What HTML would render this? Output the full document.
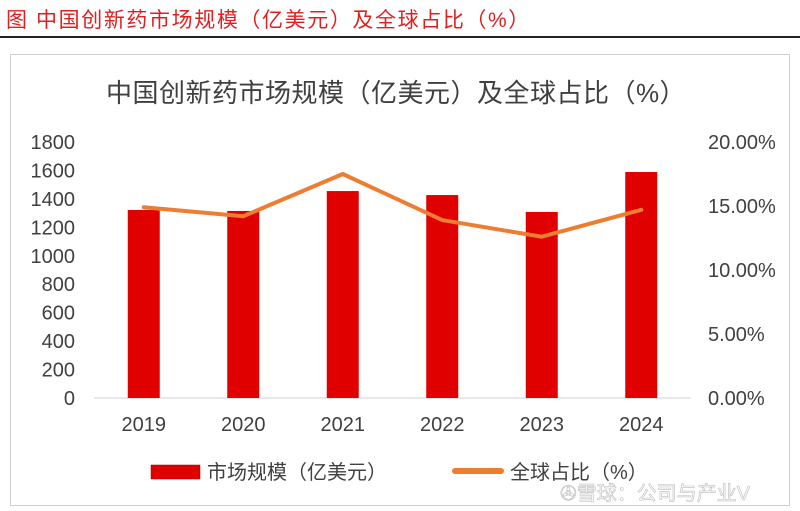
<!DOCTYPE html>
<html><head><meta charset="utf-8"><style>
body{margin:0;width:800px;height:511px;background:#fff;overflow:hidden;font-family:"Liberation Sans","Noto Sans CJK SC",sans-serif;}
</style></head><body>
<svg width="800" height="511" xmlns="http://www.w3.org/2000/svg" style="position:absolute;left:0;top:0">
<text x="6" y="27" font-size="21" fill="#e02020" letter-spacing="1.6" font-family="Liberation Sans,Noto Sans CJK SC,sans-serif">图 中国创新药市场规模（亿美元）及全球占比（%）</text>
<rect x="0" y="36" width="800" height="2" fill="#222"/>
<rect x="10.5" y="54.5" width="779" height="451" fill="#fff" stroke="#d0d0d0"/>
<text x="396" y="102" font-size="26" fill="#404040" text-anchor="middle" letter-spacing="0.5" font-family="Liberation Sans,Noto Sans CJK SC,sans-serif">中国创新药市场规模（亿美元）及全球占比（%）</text>
<g id="plot"></g>
<g>
<rect x="151" y="465" width="49" height="14" fill="#e00000" stroke="#a00" stroke-width="0.5"/>
<text x="207" y="479" font-size="20" fill="#404040" font-family="Liberation Sans,Noto Sans CJK SC,sans-serif">市场规模（亿美元）</text>
<rect x="452" y="468" width="52" height="6" rx="3" fill="#ed7d31"/>
<text x="510" y="479" font-size="20" fill="#404040" font-family="Liberation Sans,Noto Sans CJK SC,sans-serif">全球占比（%）</text>
</g>
<text x="560" y="500" font-size="20" fill="#ffffff" stroke="#bbb" stroke-width="0.6" font-family="Liberation Sans,Noto Sans CJK SC,sans-serif">✇雪球：公司与产业V</text>
</svg>
<script>
const years=["2019","2020","2021","2022","2023","2024"];
const marketSize=[1322,1315,1455,1427,1308,1589];
const globalShare=[14.9,14.2,17.5,13.9,12.6,14.7];
const leftTicks=[0,200,400,600,800,1000,1200,1400,1600,1800];
const rightTicks=[0,5,10,15,20];
const NS="http://www.w3.org/2000/svg";
const g=document.getElementById('plot');
const y0=398,yTop=142,x0=94,x1=691;
const yL=v=>y0-(v/1800)*(y0-yTop);
const yR=v=>y0-(v/20)*(y0-yTop);
const band=(x1-x0)/years.length;
const xc=i=>x0+band*(i+0.5);
function mk(t,a){const e=document.createElementNS(NS,t);for(const k in a)e.setAttribute(k,a[k]);g.appendChild(e);return e;}
leftTicks.forEach(v=>{const t=mk('text',{x:75,y:yL(v)+7,'font-size':20,fill:'#404040','text-anchor':'end'});t.textContent=v;

});
rightTicks.forEach(v=>{const t=mk('text',{x:708,y:yR(v)+7,'font-size':20,fill:'#404040'});t.textContent=v.toFixed(2)+'%';

});
const ax=mk('line',{x1:x0,x2:x1,y1:y0,y2:y0,stroke:'#d0d0d0','stroke-width':1});


years.forEach((y,i)=>{const r=mk('rect',{x:xc(i)-16,y:yL(marketSize[i]),width:32,height:y0-yL(marketSize[i]),fill:'#e00000'});


const t=mk('text',{x:xc(i),y:431,'font-size':20,fill:'#404040','text-anchor':'middle'});t.textContent=y;

});
const pl=mk('polyline',{points:globalShare.map((v,i)=>xc(i)+','+yR(v)).join(' '),fill:'none',stroke:'#ed7d31','stroke-width':4,'stroke-linejoin':'round','stroke-linecap':'round'});


</script>
</body></html>
